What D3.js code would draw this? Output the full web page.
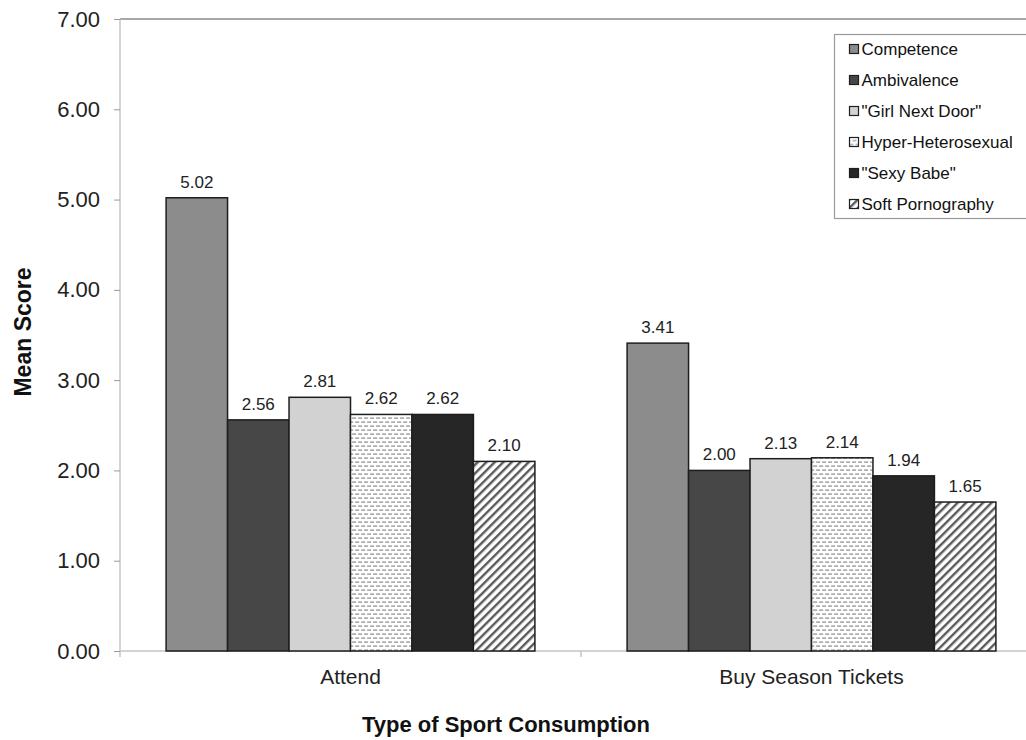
<!DOCTYPE html>
<html>
<head>
<meta charset="utf-8">
<script src="https://cdn.jsdelivr.net/npm/d3@7"></script>
<style>
  html, body { margin: 0; padding: 0; background: #fff; }
  svg { display: block; font-family: Arial, "Liberation Sans", sans-serif; }
</style>
</head>
<body>
<svg id="chart" width="1026" height="740"></svg>
<script>
// Consumption types along the x axis
const categories = ["Attend", "Buy Season Tickets"];
// Portrayal series, in legend order
const seriesNames = ["Competence", "Ambivalence", "\"Girl Next Door\"", "Hyper-Heterosexual", "\"Sexy Babe\"", "Soft Pornography"];
// Mean scores per series, one value per category
const competence  = [5.02, 3.41];
const ambivalence = [2.56, 2.00];
const girlNextDoor = [2.81, 2.13];
const hyperHetero = [2.62, 2.14];
const sexyBabe    = [2.62, 1.94];
const softPorn    = [2.10, 1.65];
const yTicks = [0, 1, 2, 3, 4, 5, 6, 7];

const seriesValues = [competence, ambivalence, girlNextDoor, hyperHetero, sexyBabe, softPorn];
const fills = ["#8c8c8c", "#474747", "#d2d2d2", "url(#dashes)", "#262626", "url(#hatch)"];

const svg = d3.select("#chart");
const margin = { left: 120, top: 19, bottom: 651 };
const plotRight = 1042;

// Fill patterns for the textured bars
const defs = svg.append("defs");
const dash = defs.append("pattern").attr("id", "dashes").attr("patternUnits", "userSpaceOnUse")
  .attr("width", 6).attr("height", 8);
dash.append("rect").attr("width", 6).attr("height", 8).attr("fill", "#fff");
dash.append("rect").attr("x", 0).attr("y", 1.5).attr("width", 4).attr("height", 1.2).attr("fill", "#8a8a8a");
dash.append("rect").attr("x", 3).attr("y", 5.5).attr("width", 4).attr("height", 1.2).attr("fill", "#8a8a8a");
dash.append("rect").attr("x", -3).attr("y", 5.5).attr("width", 4).attr("height", 1.2).attr("fill", "#8a8a8a");

const hatch = defs.append("pattern").attr("id", "hatch").attr("patternUnits", "userSpaceOnUse")
  .attr("width", 6).attr("height", 6).attr("patternTransform", "rotate(45)");
hatch.append("rect").attr("width", 6).attr("height", 6).attr("fill", "#fff");
hatch.append("rect").attr("x", 0).attr("y", 0).attr("width", 2.4).attr("height", 6).attr("fill", "#5a5a5a");

const y = d3.scaleLinear().domain([0, 7]).range([margin.bottom, margin.top]);
const x0 = d3.scaleBand().domain(categories).range([margin.left, plotRight]).paddingInner(0.2).paddingOuter(0.1);
const x1 = d3.scaleBand().domain(seriesNames).range([0, x0.bandwidth()]);

// Top frame line
svg.append("line").attr("x1", margin.left).attr("x2", 1026)
  .attr("y1", y(7)).attr("y2", y(7)).attr("stroke", "#8a8a8a").attr("stroke-width", 1.3);

// Y axis
const yAxis = svg.append("g").attr("transform", `translate(${margin.left},0)`)
  .call(d3.axisLeft(y).tickValues(yTicks).tickFormat(d3.format(".2f")).tickSize(6).tickPadding(14));
yAxis.select(".domain").attr("stroke", "#bdbdbd").attr("stroke-width", 1.3)
  .attr("d", `M0,${y(7)}V${margin.bottom + 6}`);
yAxis.selectAll(".tick line").attr("stroke", "#9a9a9a");
yAxis.selectAll(".tick text").attr("font-size", 22).attr("fill", "#222").attr("font-family", "Arial, 'Liberation Sans', sans-serif");

// X axis line and category separators
svg.append("line").attr("x1", margin.left).attr("x2", 1026)
  .attr("y1", margin.bottom).attr("y2", margin.bottom).attr("stroke", "#c4c4c4").attr("stroke-width", 1.5);
const step = x0.step();
categories.slice(1).forEach(c => {
  const sx = x0(c) - step * x0.paddingInner() / 2;
  svg.append("line").attr("x1", sx).attr("x2", sx).attr("y1", margin.bottom).attr("y2", margin.bottom + 6)
    .attr("stroke", "#bdbdbd").attr("stroke-width", 1.3);
});
svg.selectAll(".cat").data(categories).join("text").attr("class", "cat")
  .attr("x", d => x0(d) + x0.bandwidth() / 2).attr("y", 684)
  .attr("text-anchor", "middle").attr("font-size", 21).attr("fill", "#222").text(d => d);

// Bars
const groups = svg.selectAll(".grp").data(categories).join("g").attr("class", "grp")
  .attr("transform", d => `translate(${x0(d)},0)`);
groups.each(function(cat, ci) {
  const g = d3.select(this);
  seriesNames.forEach((s, si) => {
    const v = seriesValues[si][ci];
    g.append("rect").attr("x", x1(s)).attr("y", y(v)).attr("width", x1.bandwidth())
      .attr("height", y(0) - y(v)).attr("fill", fills[si])
      .attr("stroke", "#1e1e1e").attr("stroke-width", 1.5);
    g.append("text").attr("x", x1(s) + x1.bandwidth() / 2).attr("y", y(v) - 10)
      .attr("text-anchor", "middle").attr("font-size", 17).attr("fill", "#222").text(d3.format(".2f")(v));
  });
});

// Axis titles
svg.append("text").attr("x", 506).attr("y", 732).attr("text-anchor", "middle")
  .attr("font-size", 22).attr("font-weight", "bold").attr("fill", "#111").text("Type of Sport Consumption");
svg.append("text").attr("transform", "translate(31,332) rotate(-90)").attr("text-anchor", "middle")
  .attr("font-size", 23).attr("font-weight", "bold").attr("fill", "#111").text("Mean Score");

// Legend
const legend = svg.append("g").attr("transform", "translate(834.5,34.5)");
legend.append("rect").attr("x", 0).attr("y", 0).attr("width", 210).attr("height", 184)
  .attr("fill", "#fff").attr("stroke", "#9a9a9a").attr("stroke-width", 1.2);
seriesNames.forEach((s, i) => {
  const ly = 15 + i * 31;
  legend.append("rect").attr("x", 15).attr("y", ly - 5).attr("width", 9).attr("height", 9)
    .attr("fill", fills[i]).attr("stroke", "#1e1e1e").attr("stroke-width", 1.2);
  legend.append("text").attr("x", 27).attr("y", ly).attr("dy", "0.35em")
    .attr("font-size", 17).attr("fill", "#111").text(s);
});
</script>
</body>
</html>
